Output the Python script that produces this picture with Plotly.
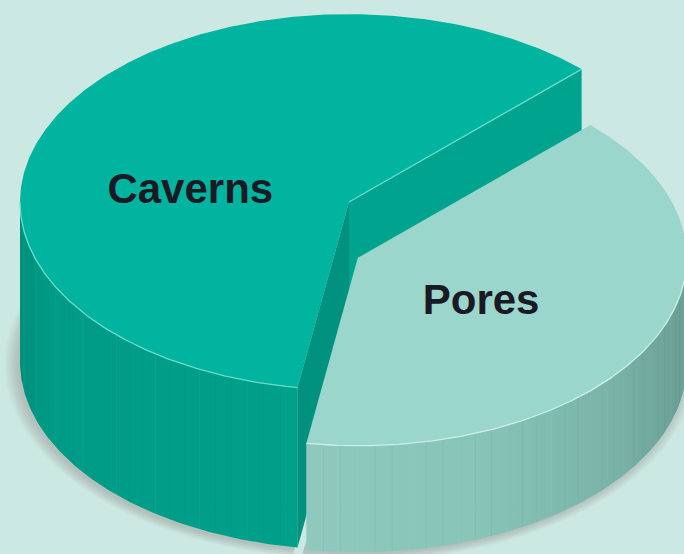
import numpy as np
import plotly.graph_objects as go

# ---- data -------------------------------------------------------------
categories = ["Caverns", "Pores"]
shares = [60, 40]

# ---- styling ----------------------------------------------------------
BG = "#CCE8E2"
TOP_COLORS = ["#00B4A0", "#9AD6CB"]
SIDE_SCALES = [
    [[0.0, "rgb(0,146,126)"], [0.12, "rgb(0,155,134)"], [1.0, "rgb(0,160,138)"]],
    [[0.0, "rgb(143,201,189)"], [0.45, "rgb(136,196,184)"], [0.8, "rgb(122,180,169)"], [1.0, "rgb(106,158,149)"]],
]
START_FACE_COLORS = ["#00A48E", "#86C4B8"]
END_FACE_COLORS = ["#00927F", "#7DB9AD"]
RIM_COLORS = ["rgba(110,222,206,0.95)", "rgba(205,241,234,0.95)"]
TEXT_COLOR = "#1A1A24"
FONT = "Liberation Sans, Arial, sans-serif"

# ---- geometry of the tilted pie ---------------------------------------
START_DEG = 45.0          # first slice starts here, going counter-clockwise
RY = 0.571                # vertical squash of the circular faces
H_MAX = 0.486             # height of the tallest slice (radius = 1)
EXPLODE = [0.0, 0.03]     # radial offset of each slice
LABEL_ANGLE = [174.0, 327.0]
LABEL_R = [0.485, 0.447]

PX_PER_UNIT = 329.0
CENTER_PX = (349.0, 202.0)
W, H = 684, 554

total = float(sum(shares))
spans = [360.0 * v / total for v in shares]
heights = [H_MAX * v / max(shares) for v in shares]


def proj(gx, gy, z):
    gx = np.asarray(gx, dtype=float)
    gy = np.asarray(gy, dtype=float)
    return gx, gy * RY + z


def arc(a, b, n=None):
    if n is None:
        n = max(4, int(abs(b - a) * 2))
    return np.radians(np.linspace(a, b, n))


fig = go.Figure()

# slice angular ranges and centres
slices = []
a = START_DEG
for i, span in enumerate(spans):
    b = a + span
    mid = np.radians((a + b) / 2)
    ox, oy = EXPLODE[i] * np.cos(mid), EXPLODE[i] * np.sin(mid)
    slices.append(dict(a=a, b=b, ox=ox, oy=oy, h=heights[i]))
    a = b

# soft contact shadow under the pie
for k in range(7):
    grow = 1.0 + 0.006 * k
    for s in slices:
        t = arc(s["a"], s["b"])
        gx = np.concatenate([[s["ox"]], s["ox"] + grow * np.cos(t), [s["ox"]]])
        gy = np.concatenate([[s["oy"]], s["oy"] + grow * np.sin(t), [s["oy"]]])
        x, y = proj(gx - 0.01, gy - 0.012, 0.0)
        fig.add_trace(go.Scatter(x=x, y=y, mode="lines", fill="toself",
                                 fillcolor="rgba(120,88,104,0.045)",
                                 line=dict(width=0), hoverinfo="skip"))


def visible_side(a, b):
    """Part of [a, b] that lies on the near half (180..360 deg)."""
    out = []
    for shift in (-360.0, 0.0, 360.0):
        lo, hi = max(a, 180.0 + shift), min(b, 360.0 + shift)
        if hi > lo:
            out.append((lo, hi))
    return out


for i, s in enumerate(slices):
    ox, oy, h = s["ox"], s["oy"], s["h"]

    # outer curved wall
    for lo, hi in visible_side(s["a"], s["b"]):
        t = arc(lo, hi)
        gx = np.concatenate([ox + np.cos(t), (ox + np.cos(t))[::-1]])
        gy = np.concatenate([oy + np.sin(t), (oy + np.sin(t))[::-1]])
        z = np.concatenate([np.full(t.size, h), np.zeros(t.size)])
        x, y = proj(gx, gy, z)
        fig.add_trace(go.Scatter(
            x=x, y=y, mode="lines", fill="toself",
            fillgradient=dict(type="horizontal", colorscale=SIDE_SCALES[i]),
            line=dict(width=0), hoverinfo="skip"))
        # faint vertical ribbing on the wall
        for j, tt in enumerate(np.radians(np.arange(np.ceil(lo / 3.0) * 3.0, hi, 3.0))):
            xr, yr = proj([ox + np.cos(tt)] * 2, [oy + np.sin(tt)] * 2, np.array([h, 0.0]))
            shade = "rgba(255,255,255,0.05)" if j % 3 == 0 else "rgba(0,40,40,0.035)"
            fig.add_trace(go.Scatter(x=xr, y=yr, mode="lines",
                                     line=dict(color=shade, width=1.0), hoverinfo="skip"))

    # flat cut faces (only the ones turned towards the viewer)
    for ang, col, show in ((s["a"], START_FACE_COLORS[i], np.cos(np.radians(s["a"])) > 0),
                           (s["b"], END_FACE_COLORS[i], np.cos(np.radians(s["b"])) < 0)):
        if not show:
            continue
        r = np.radians(ang)
        gx = np.array([ox, ox + np.cos(r), ox + np.cos(r), ox, ox])
        gy = np.array([oy, oy + np.sin(r), oy + np.sin(r), oy, oy])
        z = np.array([h, h, 0.0, 0.0, h])
        x, y = proj(gx, gy, z)
        fig.add_trace(go.Scatter(x=x, y=y, mode="lines", fill="toself",
                                 fillcolor=col, line=dict(width=0), hoverinfo="skip"))

    # top face
    t = arc(s["a"], s["b"])
    gx = np.concatenate([[ox], ox + np.cos(t), [ox]])
    gy = np.concatenate([[oy], oy + np.sin(t), [oy]])
    x, y = proj(gx, gy, h)
    fig.add_trace(go.Scatter(x=x, y=y, mode="lines", fill="toself",
                             fillcolor=TOP_COLORS[i], line=dict(width=0, color=TOP_COLORS[i]),
                             hoverinfo="skip"))

    # light edges along the visible rims
    for lo, hi in visible_side(s["a"], s["b"]):
        t = arc(lo, hi)
        x, y = proj(ox + np.cos(t), oy + np.sin(t), h)
        fig.add_trace(go.Scatter(x=x, y=y, mode="lines",
                                 line=dict(color=RIM_COLORS[i], width=1.3), hoverinfo="skip"))
    if np.cos(np.radians(s["a"])) > 0:
        r = np.radians(s["a"])
        x, y = proj([ox, ox + np.cos(r)], [oy, oy + np.sin(r)], h)
        fig.add_trace(go.Scatter(x=x, y=y, mode="lines",
                                 line=dict(color=RIM_COLORS[i], width=1.3), hoverinfo="skip"))

# category labels on the top faces
for i, s in enumerate(slices):
    r = np.radians(LABEL_ANGLE[i])
    x, y = proj([s["ox"] + LABEL_R[i] * np.cos(r)], [s["oy"] + LABEL_R[i] * np.sin(r)], s["h"])
    fig.add_trace(go.Scatter(x=x, y=y, mode="text", text=[categories[i]],
                             textposition="middle center",
                             textfont=dict(family=FONT, size=42, color=TEXT_COLOR, weight="bold"),
                             hoverinfo="skip"))

x_range = [-CENTER_PX[0] / PX_PER_UNIT, (W - CENTER_PX[0]) / PX_PER_UNIT]
y_top = heights[0] + CENTER_PX[1] / PX_PER_UNIT
y_range = [y_top - H / PX_PER_UNIT, y_top]

fig.update_layout(
    width=W, height=H,
    margin=dict(l=0, r=0, t=0, b=0),
    paper_bgcolor=BG, plot_bgcolor=BG,
    showlegend=False, hovermode=False,
    xaxis=dict(range=x_range, visible=False, fixedrange=True),
    yaxis=dict(range=y_range, visible=False, fixedrange=True),
)

fig.write_html("out.html")
